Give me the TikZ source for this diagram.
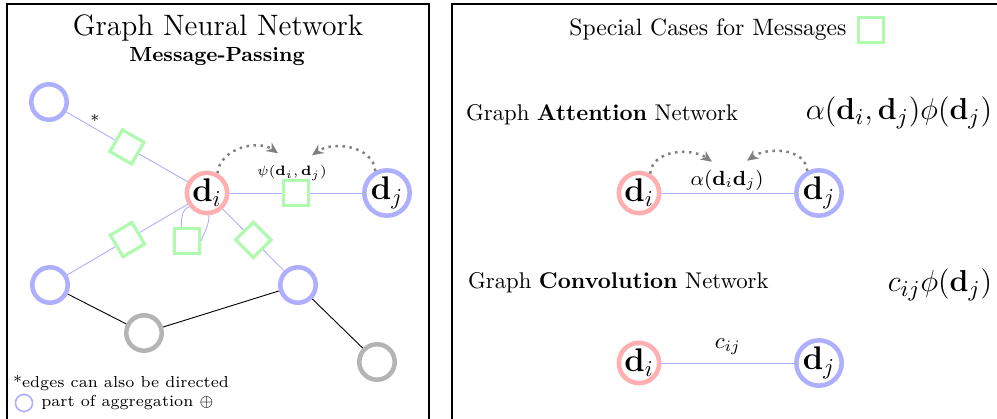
\documentclass[tikz,border=0pt]{standalone}
\usepackage{tikz}
\usepackage{graphicx}
\usetikzlibrary{calc,shapes,arrows,arrows.meta,positioning}
\usepackage{amsfonts}
\usepackage{xcolor}
\definecolor{aggblue}{HTML}{AFAFFF}
\definecolor{nodered}{HTML}{FFAFAF}
\definecolor{msggreen}{HTML}{AFFAAF}
\definecolor{restgray}{HTML}{B4B4B4}

\begin{document}
\begin{tikzpicture}[x=0.44pt,y=0.44pt,
  vertex/.style={circle,draw,fill=white,line width=2pt,minimum size=15.6pt,inner sep=0pt},
  agg/.style={vertex,draw=aggblue},
  focus/.style={vertex,draw=nodered},
  rest/.style={vertex,draw=restgray},
  msg/.style={rectangle,draw=msggreen,fill=white,line width=1.4pt,minimum size=11pt,inner sep=0pt},
  edge/.style={draw=aggblue,line width=0.4pt},
  flow/.style={-{Stealth[length=5pt,width=4.5pt]},gray,dotted,line width=1.1pt}]
\clip (0,0) rectangle (997,419);

%draw frames
\draw[line width=0.6pt] (7,-10) rectangle (429,415);
\draw[line width=0.6pt] (452,-10) rectangle (1010,415);

%left frame: message passing
\node (gnn) at (218,391) {\fontsize{13}{15}\selectfont Graph Neural Network};
\node (mp) at (217,362) {\small\bfseries Message-Passing};

\node[agg] (ta) at (49,317) {};
\node[focus] (di) at (207,226) {\Large$\mathbf{d}_i$};
\node[agg] (dj) at (387,226) {\Large$\mathbf{d}_j$};
\node[agg] (lb) at (50,134) {};
\node[agg] (rb) at (298,134) {};
\node[rest] (gm) at (144,86) {};
\node[rest] (gb) at (377,57) {};

%edges with messages
\draw[edge] (ta) -- node[msg,sloped] (m1) {} (di);
\draw[edge] (lb) -- node[msg,sloped] (m3) {} (di);
\draw[edge] (di) -- node[msg,sloped] (m4) {} (rb);
\draw[edge] (di) -- node[msg] (m2) {} (dj);
\node (ast) at (95,298) {\scriptsize *};

%self loop
\node[msg] (m5) at (187,178) {};
\draw[edge] (di.218) to[out=200,in=90] ($(m5.north west)!0.3!(m5.north east)$);
\draw[edge] (m5.east) to[out=70,in=-90] (di.-85);

%other edges
\draw (lb) -- (gm);
\draw (gm) -- (rb);
\draw (rb) -- (gb);

\node (psi) at (292,246) {\fontsize{6}{7}\selectfont$\psi(\mathbf{d}_i,\mathbf{d}_j)$};
\draw[flow] (di.62) to[out=85,in=145] ($(psi.north)+(-14,4)$);
\draw[flow] (dj.118) to[out=95,in=35] ($(psi.north)+(20,2)$);

%legend
\node[anchor=west] (note) at (5,36) {\scriptsize *edges can also be directed};
\node[agg,line width=0.7pt,minimum size=7.5pt] (lg) at (24,16) {};
\node[right=0pt of lg] (lgtext) {\scriptsize part of aggregation $\oplus$};

%right frame: special cases
\node (sc) at (708,389) {\fontsize{10.4}{12}\selectfont Special Cases for Messages};
\node[msg,minimum size=11pt,right=1pt of sc] (scm) {};

\node[anchor=west] (gat) at (458,304) {Graph \textbf{Attention} Network};
\node (gatf) at (899,306) {\scalebox{1.11}{\fontsize{13}{15}\selectfont$\alpha(\mathbf{d}_i,\mathbf{d}_j)\phi(\mathbf{d}_j)$}};
\node[focus] (gi) at (639,226) {\Large$\mathbf{d}_i$};
\node[agg] (gj) at (819,226) {\Large$\mathbf{d}_j$};
\draw[edge] (gi) -- (gj);
\node (alpha) at (727,239) {\small$\alpha(\mathbf{d}_i\mathbf{d}_j)$};
\draw[flow] (gi.60) to[out=85,in=145] ($(alpha.north)+(-15,0)$);
\draw[flow] (gj.118) to[out=95,in=35] ($(alpha.north)+(20,1)$);

\node[anchor=west] (gcn) at (460,136) {Graph \textbf{Convolution} Network};
\node (gcnf) at (940,134) {\scalebox{1.11}{\fontsize{13}{15}\selectfont$c_{ij}\phi(\mathbf{d}_j)$}};
\node[focus] (ci) at (639,56) {\Large$\mathbf{d}_i$};
\node[agg] (cj) at (819,56) {\Large$\mathbf{d}_j$};
\draw[edge] (ci) -- node[above] (cij) {$c_{ij}$} (cj);
\end{tikzpicture}
\end{document}
